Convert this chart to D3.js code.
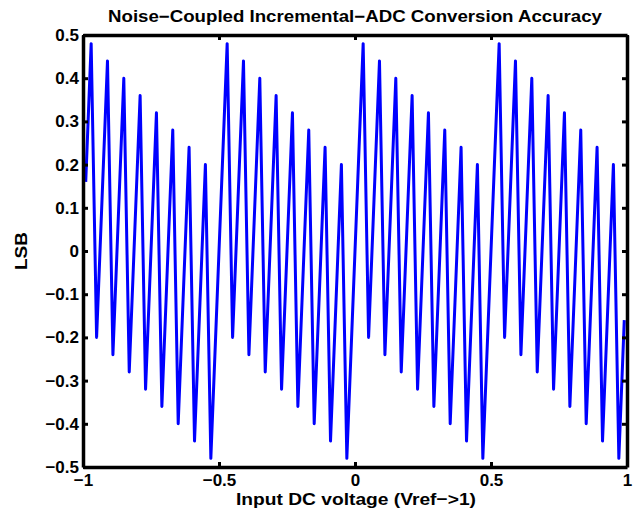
<html>
<head>
<meta charset="utf-8">
<script src="https://d3js.org/d3.v7.min.js"></script>
<style>
  body { margin: 0; background: #fff; }
  text { font-family: "Liberation Sans", Arial, sans-serif; font-weight: bold; fill: #000; }
</style>
</head>
<body>
<svg class="chart" width="635" height="518"></svg>
<script>
  // sample grid: Vin from -0.99 to 0.99, step 0.02
  var xStart = -0.99, xStep = 0.02;

  // conversion error in LSB
  var lsbError = [
    0.16, 0.48, -0.20, 0.12, 0.44, -0.24, 0.08, 0.40, -0.28, 0.04,
    0.36, -0.32, 0.00, 0.32, -0.36, -0.04, 0.28, -0.40, -0.08, 0.24,
    -0.44, -0.12, 0.20, -0.48, -0.16,
    0.16, 0.48, -0.20, 0.12, 0.44, -0.24, 0.08, 0.40, -0.28, 0.04,
    0.36, -0.32, 0.00, 0.32, -0.36, -0.04, 0.28, -0.40, -0.08, 0.24,
    -0.44, -0.12, 0.20, -0.48, -0.16,
    0.16, 0.48, -0.20, 0.12, 0.44, -0.24, 0.08, 0.40, -0.28, 0.04,
    0.36, -0.32, 0.00, 0.32, -0.36, -0.04, 0.28, -0.40, -0.08, 0.24,
    -0.44, -0.12, 0.20, -0.48, -0.16,
    0.16, 0.48, -0.20, 0.12, 0.44, -0.24, 0.08, 0.40, -0.28, 0.04,
    0.36, -0.32, 0.00, 0.32, -0.36, -0.04, 0.28, -0.40, -0.08, 0.24,
    -0.44, -0.12, 0.20, -0.48, -0.16
  ];

  var xTicks = [-1, -0.5, 0, 0.5, 1];
  var yTicks = [-0.5, -0.4, -0.3, -0.2, -0.1, 0, 0.1, 0.2, 0.3, 0.4, 0.5];

  var title = "Noise\u2212Coupled Incremental\u2212ADC Conversion Accuracy";
  var xLabel = "Input DC voltage (Vref\u2212>1)";
  var yLabel = "LSB";

  var margin = {top: 35, right: 8, bottom: 51, left: 83};
  var width = 635 - margin.left - margin.right;
  var height = 518 - margin.top - margin.bottom;

  var svg = d3.select("svg");
  var g = svg.append("g").attr("transform", "translate(" + margin.left + "," + margin.top + ")");

  var x = d3.scaleLinear().domain([-1, 1]).range([0, width]);
  var y = d3.scaleLinear().domain([-0.5, 0.5]).range([height, 0]);

  var fmt = function(d) { return String(d).replace("-", "\u2212"); };
  var noLabel = function() { return ""; };

  // data line
  var pts = lsbError.map(function(v, i) { return [xStart + xStep * i, v]; });
  g.append("path")
    .datum(pts)
    .attr("fill", "none")
    .attr("stroke", "#0000ff")
    .attr("stroke-width", 3)
    .attr("stroke-linejoin", "round")
    .attr("d", d3.line().x(function(d) { return x(d[0]); }).y(function(d) { return y(d[1]); }));

  // axes, ticks inward on all sides
  var axB = d3.axisBottom(x).tickValues(xTicks).tickFormat(fmt).tickSizeInner(-5).tickSizeOuter(0).tickPadding(7);
  var axT = d3.axisTop(x).tickValues(xTicks).tickFormat(noLabel).tickSizeInner(-5).tickSizeOuter(0);
  var axL = d3.axisLeft(y).tickValues(yTicks).tickFormat(fmt).tickSizeInner(-5).tickSizeOuter(0).tickPadding(4);
  var axR = d3.axisRight(y).tickValues(yTicks).tickFormat(noLabel).tickSizeInner(-5).tickSizeOuter(0);

  g.append("g").attr("class", "ax").attr("transform", "translate(0," + height + ")").call(axB);
  g.append("g").attr("class", "ax").call(axT);
  g.append("g").attr("class", "ax").call(axL);
  g.append("g").attr("class", "ax").attr("transform", "translate(" + width + ",0)").call(axR);

  g.selectAll(".ax .domain").attr("stroke", "#000").attr("stroke-width", 3.5);
  g.selectAll(".ax .tick line").attr("stroke", "#000").attr("stroke-width", 3);
  g.selectAll(".ax text").attr("font-size", 17).attr("font-family", null).attr("fill", "#000");

  g.append("text")
    .attr("x", width / 2).attr("y", -13)
    .attr("text-anchor", "middle").attr("font-size", 16.5)
    .attr("textLength", 494).attr("lengthAdjust", "spacingAndGlyphs")
    .text(title);

  g.append("text")
    .attr("x", width / 2 + 1).attr("y", height + 38)
    .attr("text-anchor", "middle").attr("font-size", 17)
    .attr("textLength", 240).attr("lengthAdjust", "spacingAndGlyphs")
    .text(xLabel);

  g.append("text")
    .attr("transform", "translate(-56," + (height / 2) + ") rotate(-90)")
    .attr("text-anchor", "middle").attr("font-size", 17)
    .attr("textLength", 38).attr("lengthAdjust", "spacingAndGlyphs")
    .text(yLabel);
</script>
</body>
</html>
